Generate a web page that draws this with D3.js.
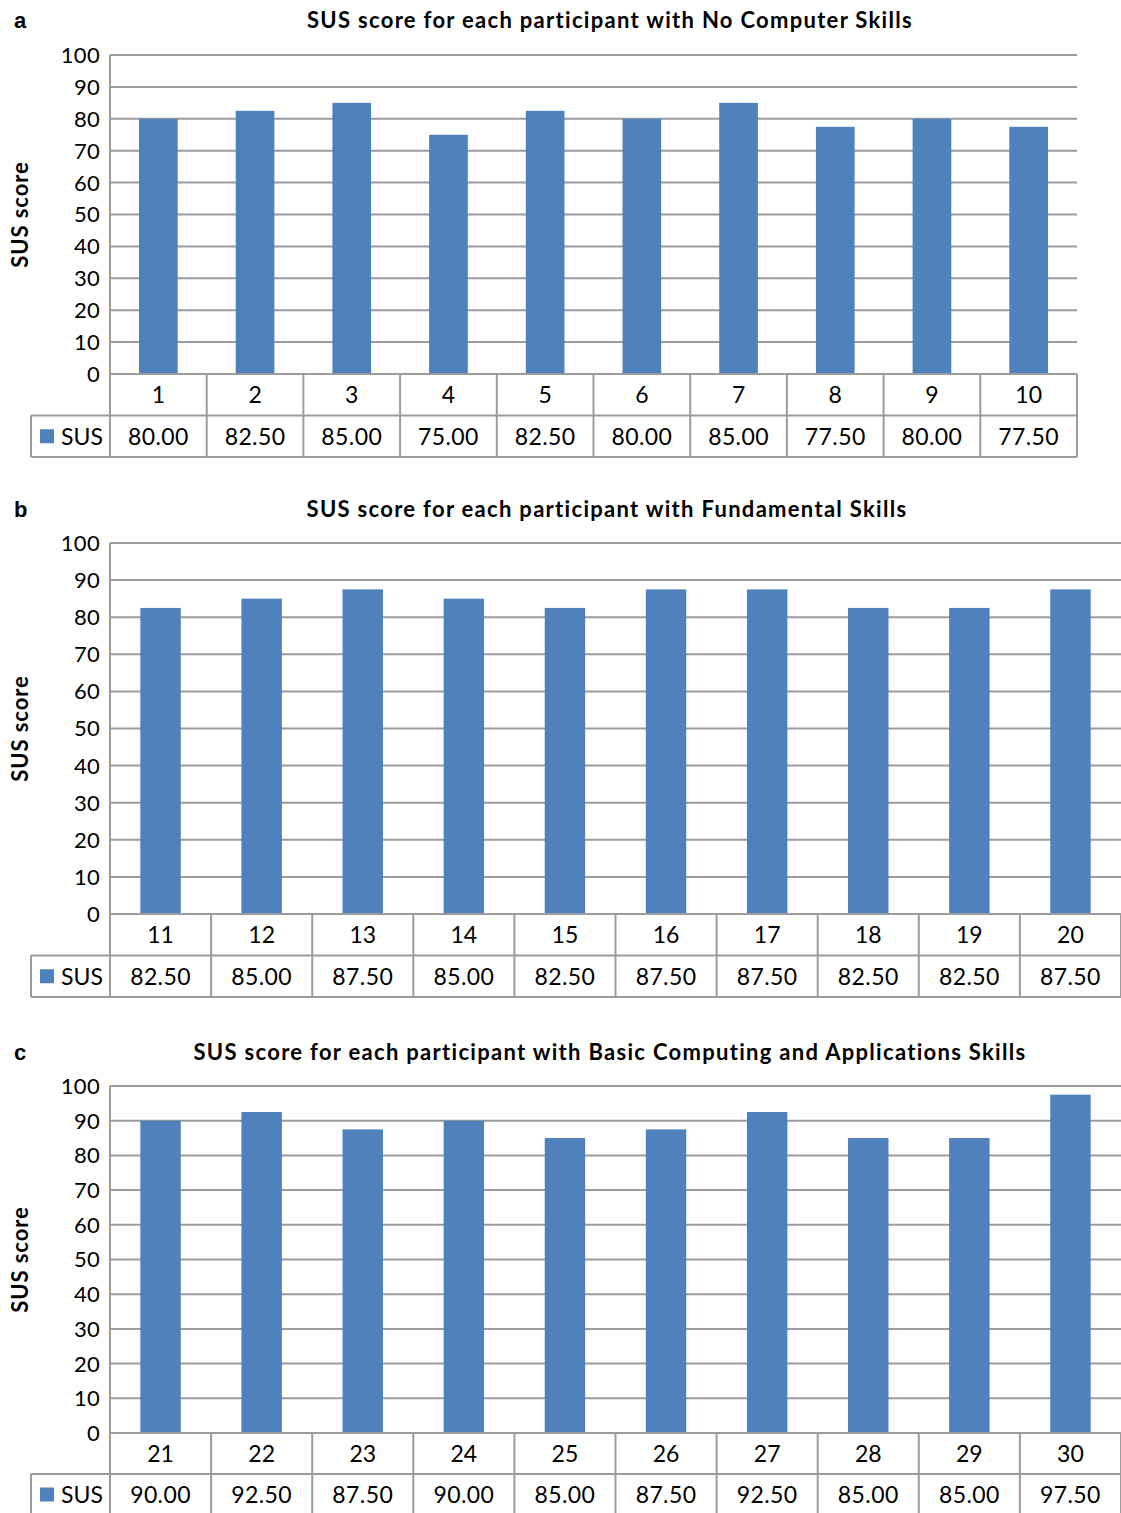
<!DOCTYPE html>
<html>
<head>
<meta charset="utf-8">
<script src="https://cdn.jsdelivr.net/npm/d3@7"></script>
<style>
  html, body { margin: 0; padding: 0; background: #fff; }
  svg { display: block; }
</style>
</head>
<body>
<svg id="chart" width="1121" height="1513"></svg>
<script>
// Participants and SUS scores per skill group
const participantsA = ["1","2","3","4","5","6","7","8","9","10"];
const scoresA = [80.00, 82.50, 85.00, 75.00, 82.50, 80.00, 85.00, 77.50, 80.00, 77.50];

const participantsB = ["11","12","13","14","15","16","17","18","19","20"];
const scoresB = [82.50, 85.00, 87.50, 85.00, 82.50, 87.50, 87.50, 82.50, 82.50, 87.50];

const participantsC = ["21","22","23","24","25","26","27","28","29","30"];
const scoresC = [90.00, 92.50, 87.50, 90.00, 85.00, 87.50, 92.50, 85.00, 85.00, 97.50];

const titles = [
  "SUS score for each participant with No Computer Skills",
  "SUS score for each participant with Fundamental Skills",
  "SUS score for each participant with Basic Computing and Applications Skills"
];
const panelLetters = ["a", "b", "c"];
const yTicks = [0, 10, 20, 30, 40, 50, 60, 70, 80, 90, 100];
const seriesName = "SUS";
const yAxisTitle = "SUS score";

const BAR = "#4F81BD";
const GRID = "#9c9c9c";
const TEXT_FONT = "Lato, 'Open Sans', sans-serif";

const svg = d3.select("#chart");

function drawPanel(opt) {
  const g = svg.append("g");
  const x = d3.scaleBand().domain(opt.cats).range([opt.left, opt.right]).padding(0);
  const xBar = d3.scaleBand().domain(opt.cats).range([opt.left, opt.right])
    .paddingInner(0.6).paddingOuter(0.3);
  const y = d3.scaleLinear().domain([0, 100]).range([opt.bottom, opt.top]);

  // panel letter
  g.append("text").attr("x", 14).attr("y", opt.titleY)
    .attr("font-family", "'Liberation Sans', Arial, sans-serif")
    .attr("font-weight", "bold").attr("font-size", 22).attr("fill", "#000")
    .text(opt.letter);

  // chart title
  g.append("text").attr("x", opt.titleX).attr("y", opt.titleY)
    .attr("text-anchor", "middle")
    .attr("font-family", TEXT_FONT).attr("font-weight", "bold")
    .attr("font-size", 22).attr("letter-spacing", 1.3).attr("fill", "#000")
    .text(opt.title);

  // y axis title
  g.append("text")
    .attr("transform", `translate(28,${(opt.top + opt.bottom) / 2}) rotate(-90)`)
    .attr("text-anchor", "middle")
    .attr("font-family", TEXT_FONT).attr("font-weight", "bold")
    .attr("font-size", 22).attr("letter-spacing", 0.9).attr("fill", "#000")
    .text(yAxisTitle);

  // gridlines
  g.selectAll("line.grid").data(yTicks.filter(t => t > 0)).join("line")
    .attr("x1", opt.left).attr("x2", opt.right)
    .attr("y1", d => y(d)).attr("y2", d => y(d))
    .attr("stroke", GRID).attr("stroke-width", 2);

  // y tick labels
  g.selectAll("text.tick").data(yTicks).join("text")
    .attr("x", 100).attr("y", d => y(d))
    .attr("dy", "0.36em").attr("text-anchor", "end")
    .attr("font-family", TEXT_FONT).attr("font-size", 22).attr("letter-spacing", 0.3)
    .attr("fill", "#000")
    .text(d => d);

  // bars
  g.selectAll("rect.bar").data(opt.values).join("rect")
    .attr("x", (d, i) => xBar(opt.cats[i]))
    .attr("width", xBar.bandwidth())
    .attr("y", d => y(d))
    .attr("height", d => y(0) - y(d))
    .attr("fill", BAR);

  // data table
  const row1Top = opt.bottom;
  const row2Top = opt.bottom + opt.rowH;
  const row2Bot = row2Top + opt.rowH;
  const tbl = g.append("g").attr("stroke", GRID).attr("stroke-width", 2).attr("fill", "none");
  // left axis line
  tbl.append("line").attr("x1", opt.left).attr("x2", opt.left)
    .attr("y1", opt.top).attr("y2", row2Bot);
  // horizontal rules
  tbl.append("line").attr("x1", opt.left).attr("x2", opt.right).attr("y1", row1Top).attr("y2", row1Top);
  tbl.append("line").attr("x1", opt.legendLeft).attr("x2", opt.right).attr("y1", row2Top).attr("y2", row2Top);
  tbl.append("line").attr("x1", opt.legendLeft).attr("x2", opt.right).attr("y1", row2Bot).attr("y2", row2Bot);
  tbl.append("line").attr("x1", opt.legendLeft).attr("x2", opt.legendLeft).attr("y1", row2Top).attr("y2", row2Bot);
  // column dividers
  tbl.selectAll("line.col").data(opt.cats).join("line")
    .attr("x1", d => x(d) + x.bandwidth()).attr("x2", d => x(d) + x.bandwidth())
    .attr("y1", row1Top).attr("y2", row2Bot);

  // category labels
  g.selectAll("text.cat").data(opt.cats).join("text")
    .attr("x", d => x(d) + x.bandwidth() / 2)
    .attr("y", row1Top + opt.rowH / 2).attr("dy", "0.36em")
    .attr("text-anchor", "middle")
    .attr("font-family", TEXT_FONT).attr("font-size", 23).attr("fill", "#000")
    .text(d => d);

  // value labels
  g.selectAll("text.val").data(opt.values).join("text")
    .attr("x", (d, i) => x(opt.cats[i]) + x.bandwidth() / 2)
    .attr("y", row2Top + opt.rowH / 2).attr("dy", "0.36em")
    .attr("text-anchor", "middle")
    .attr("font-family", TEXT_FONT).attr("font-size", 23).attr("letter-spacing", 0.4)
    .attr("fill", "#000")
    .text(d => d3.format(".2f")(d));

  // legend key
  g.append("rect").attr("x", 40).attr("y", row2Top + opt.rowH / 2 - 7)
    .attr("width", 14).attr("height", 14).attr("fill", BAR);
  g.append("text").attr("x", 61).attr("y", row2Top + opt.rowH / 2).attr("dy", "0.36em")
    .attr("font-family", TEXT_FONT).attr("font-size", 23).attr("fill", "#000")
    .text(seriesName);
}

drawPanel({ letter: panelLetters[0], title: titles[0], cats: participantsA, values: scoresA,
  left: 110, right: 1077, top: 55, bottom: 374, rowH: 41.5, legendLeft: 31,
  titleX: 610, titleY: 28 });
drawPanel({ letter: panelLetters[1], title: titles[1], cats: participantsB, values: scoresB,
  left: 110, right: 1121, top: 543, bottom: 914, rowH: 41.5, legendLeft: 31,
  titleX: 607, titleY: 517 });
drawPanel({ letter: panelLetters[2], title: titles[2], cats: participantsC, values: scoresC,
  left: 110, right: 1121, top: 1086, bottom: 1433, rowH: 41, legendLeft: 31,
  titleX: 610, titleY: 1060 });
</script>
</body>
</html>
